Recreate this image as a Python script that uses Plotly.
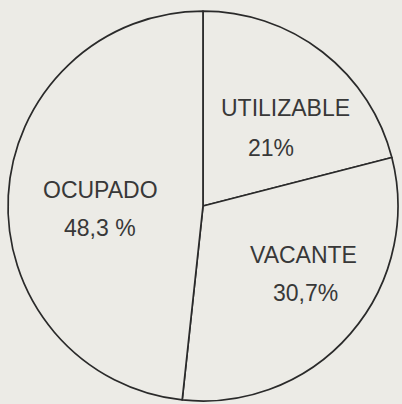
import plotly.graph_objects as go

labels = ["UTILIZABLE", "VACANTE", "OCUPADO"]
values = [21.0, 30.7, 48.3]
pct_text = ["21%", "30,7%", "48,3 %"]

# label positions (paper coords) for name and percent lines
name_pos = [(0.709, 0.733), (0.754, 0.369), (0.251, 0.530)]
pct_pos = [(0.674, 0.634), (0.759, 0.275), (0.249, 0.436)]

bg = "#ecebe6"
ink = "#2a2a2a"

fig = go.Figure(go.Pie(
    labels=labels,
    values=values,
    sort=False,
    direction="clockwise",
    rotation=0,
    textinfo="none",
    hoverinfo="label+percent",
    marker=dict(colors=[bg] * 3, line=dict(color=ink, width=1.7)),
    domain=dict(x=[0.0199, 0.990], y=[0.005, 0.975]),
    showlegend=False,
))

font = dict(family="Liberation Sans, Arial, sans-serif", size=23, color="#383838")
for lab, (x, y) in zip(labels, name_pos):
    fig.add_annotation(text=lab, x=x, y=y, xref="paper", yref="paper",
                       showarrow=False, font=font, xanchor="center", yanchor="middle")
for t, (x, y) in zip(pct_text, pct_pos):
    fig.add_annotation(text=t, x=x, y=y, xref="paper", yref="paper",
                       showarrow=False, font=font, xanchor="center", yanchor="middle")

fig.update_layout(
    width=402, height=404,
    margin=dict(l=0, r=0, t=0, b=0),
    paper_bgcolor=bg, plot_bgcolor=bg,
)
fig.write_html("out.html", config={"displayModeBar": False},
               post_script="document.body.style.margin='0';document.body.style.overflow='hidden';")
